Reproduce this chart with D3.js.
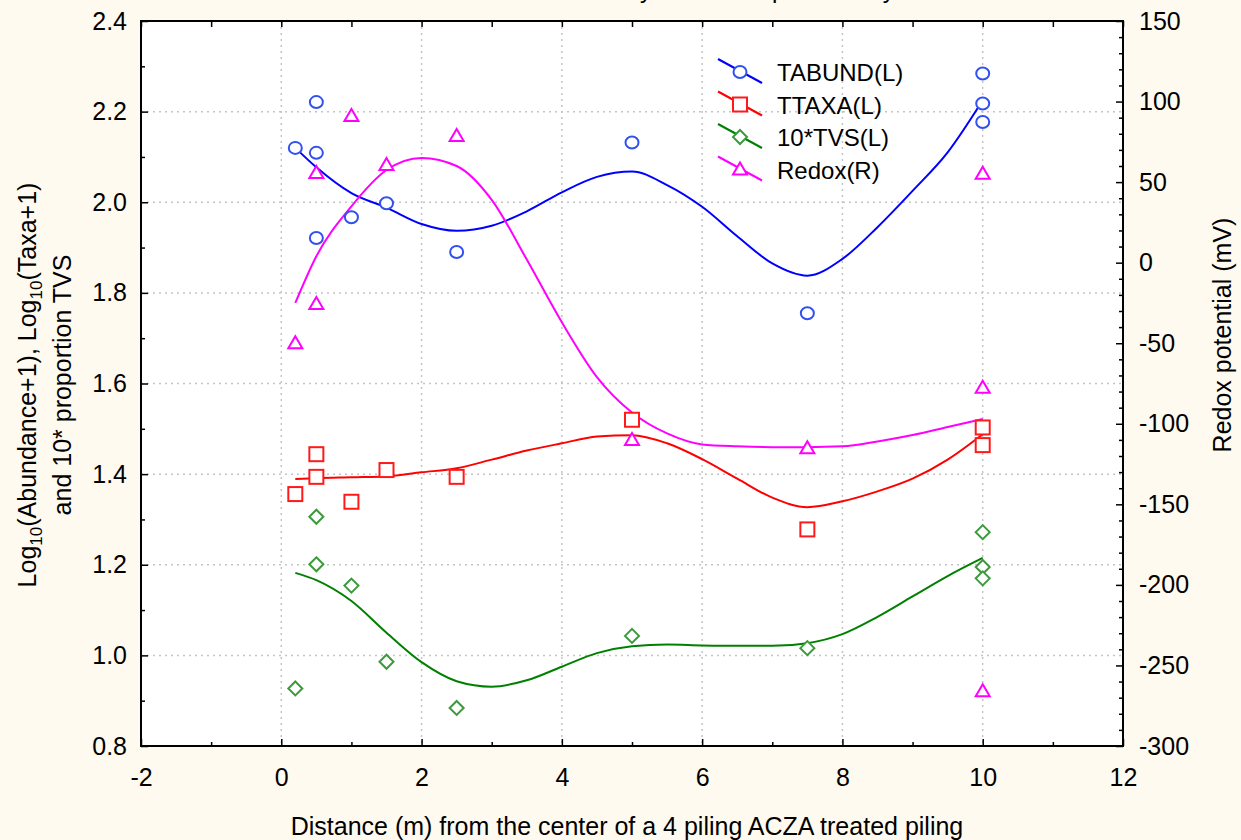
<!DOCTYPE html>
<html>
<head>
<meta charset="utf-8">
<script src="https://cdn.jsdelivr.net/npm/d3@7"></script>
<style>
  body { margin: 0; background: #fffaf0; }
  svg { display: block; font-family: "Liberation Sans", Arial, sans-serif; }
</style>
</head>
<body>
<svg id="chart" width="1241" height="840"></svg>
<script>
// tick values
var xTicks = [-2, 0, 2, 4, 6, 8, 10, 12];
var leftTicks = [0.8, 1.0, 1.2, 1.4, 1.6, 1.8, 2.0, 2.2, 2.4];
var rightTicks = [-300, -250, -200, -150, -100, -50, 0, 50, 100, 150];

// observed points (distance, value)
var tabundX = [0.2, 0.5, 0.5, 0.5, 1, 1.5, 2.5, 5, 7.5, 10, 10, 10];
var tabundY = [2.120, 2.221, 2.109, 1.921, 1.967, 1.998, 1.890, 2.132, 1.755, 2.284, 2.218, 2.177];
var ttaxaX = [0.2, 0.5, 0.5, 1, 1.5, 2.5, 5, 7.5, 10, 10];
var ttaxaY = [1.356, 1.444, 1.394, 1.339, 1.409, 1.394, 1.520, 1.278, 1.503, 1.464];
var tvsX = [0.2, 0.5, 0.5, 1, 1.5, 2.5, 5, 7.5, 10, 10, 10];
var tvsY = [0.927, 1.306, 1.201, 1.154, 0.986, 0.884, 1.043, 1.016, 1.272, 1.195, 1.170];
var redoxX = [0.2, 0.5, 0.5, 1, 1.5, 2.5, 5, 7.5, 10, 10, 10];
var redoxY = [-50, 55.6, -25.7, 91, 60.6, 78.6, -110, -115.2, 55.2, -77.6, -266];

// smoothed fits
var fitX = [0.2, 0.5, 1, 1.5, 2, 2.5, 3, 3.5, 4, 4.5, 5, 5.5, 6, 6.5, 7, 7.5, 8, 8.5, 9, 9.5, 10];
var tabundFit = [2.120, 2.077, 2.020, 1.988, 1.952, 1.937, 1.948, 1.980, 2.022, 2.056, 2.068, 2.038, 1.990, 1.925, 1.865, 1.838, 1.875, 1.945, 2.025, 2.110, 2.225];
var ttaxaFit = [1.389, 1.391, 1.393, 1.395, 1.404, 1.413, 1.432, 1.452, 1.468, 1.483, 1.486, 1.468, 1.433, 1.390, 1.348, 1.327, 1.340, 1.362, 1.390, 1.432, 1.488];
var tvsFit = [1.182, 1.166, 1.120, 1.050, 0.985, 0.943, 0.931, 0.945, 0.975, 1.005, 1.020, 1.024, 1.022, 1.021, 1.021, 1.027, 1.047, 1.085, 1.130, 1.175, 1.215];
var redoxFit = [-25, 4, 35, 57.5, 65, 60, 39, 2, -37, -71, -93, -106, -112.8, -114, -114.5, -114.5, -114, -111, -107, -102, -97];

var series = [
  { name: "TABUND(L)", xs: tabundX, ys: tabundY, fit: tabundFit, axis: "L", line: "#0000ff", mark: "#3050f0", shape: "circle" },
  { name: "TTAXA(L)", xs: ttaxaX, ys: ttaxaY, fit: ttaxaFit, axis: "L", line: "#ff0000", mark: "#ff1a1a", shape: "square" },
  { name: "10*TVS(L)", xs: tvsX, ys: tvsY, fit: tvsFit, axis: "L", line: "#008000", mark: "#3c9a3c", shape: "diamond" },
  { name: "Redox(R)", xs: redoxX, ys: redoxY, fit: redoxFit, axis: "R", line: "#ff00ff", mark: "#ff00ff", shape: "triangle" }
];

var svg = d3.select("#chart");
var pL = 141, pR = 1123, pT = 21, pB = 746;

var x = d3.scaleLinear().domain([-2, 12]).range([pL, pR]);
var yL = d3.scaleLinear().domain([0.8, 2.4]).range([pB, pT]);
var yR = d3.scaleLinear().domain([-300, 150]).range([pB, pT]);

// plain hyphen for negatives, like the original
function fmt(spec) {
  var f = d3.format(spec);
  return function(d) { return f(d).replace("\u2212", "-"); };
}

// title (cut off at the top edge, only descenders show)
svg.append("text")
  .attr("x", 720).attr("y", -2)
  .attr("text-anchor", "middle")
  .style("font-size", "24px")
  .text("Benthic community and redox potential by distance");

svg.append("rect")
  .attr("x", pL).attr("y", pT)
  .attr("width", pR - pL).attr("height", pB - pT)
  .attr("fill", "#ffffff");

// grid
var grid = svg.append("g").attr("stroke", "#c4c4c4").attr("stroke-width", 1.5).attr("stroke-dasharray", "2,4");
grid.selectAll(".gx").data(xTicks.slice(1, -1)).enter().append("line")
  .attr("x1", function(d) { return x(d); }).attr("x2", function(d) { return x(d); })
  .attr("y1", pT).attr("y2", pB);
grid.selectAll(".gy").data(leftTicks.slice(1, -1)).enter().append("line")
  .attr("y1", function(d) { return yL(d); }).attr("y2", function(d) { return yL(d); })
  .attr("x1", pL).attr("x2", pR);

// axes (ticks point inward)
function styleAxis(g) {
  g.select(".domain").remove();
  g.selectAll("line").attr("stroke", "#000").attr("stroke-width", 1.5);
  g.selectAll("text").attr("fill", "#000").style("font-size", "25px");
}
var minorX = d3.range(-1, 12, 2);
var minorL = d3.range(0.9, 2.4, 0.2);
var minorR = d3.range(-290, 150, 10).filter(function(d) { return d % 50 !== 0; });

svg.append("g").attr("transform", "translate(0," + pB + ")")
  .call(d3.axisBottom(x).tickValues(xTicks).tickSize(-7).tickPadding(22).tickFormat(fmt("d")))
  .call(styleAxis);
svg.append("g").attr("transform", "translate(0," + pB + ")")
  .call(d3.axisBottom(x).tickValues(minorX).tickSize(-4).tickFormat(""))
  .call(styleAxis);
svg.append("g").attr("transform", "translate(0," + pT + ")")
  .call(d3.axisTop(x).tickValues(d3.range(-2, 13, 1)).tickSize(-6).tickFormat(""))
  .call(styleAxis);

svg.append("g").attr("transform", "translate(" + pL + ",0)")
  .call(d3.axisLeft(yL).tickValues(leftTicks).tickSize(-7).tickPadding(14).tickFormat(fmt(".1f")))
  .call(styleAxis);
svg.append("g").attr("transform", "translate(" + pL + ",0)")
  .call(d3.axisLeft(yL).tickValues(minorL).tickSize(-4).tickFormat(""))
  .call(styleAxis);

svg.append("g").attr("transform", "translate(" + pR + ",0)")
  .call(d3.axisRight(yR).tickValues(rightTicks).tickSize(-7).tickPadding(16).tickFormat(fmt("d")))
  .call(styleAxis);
svg.append("g").attr("transform", "translate(" + pR + ",0)")
  .call(d3.axisRight(yR).tickValues(minorR).tickSize(-4).tickFormat(""))
  .call(styleAxis);

// frame
svg.append("rect")
  .attr("x", pL).attr("y", pT)
  .attr("width", pR - pL).attr("height", pB - pT)
  .attr("fill", "none").attr("stroke", "#000").attr("stroke-width", 2);

// fitted curves
series.forEach(function(s) {
  var ys = s.axis === "L" ? yL : yR;
  var line = d3.line()
    .x(function(d, i) { return x(fitX[i]); })
    .y(function(d) { return ys(d); })
    .curve(d3.curveMonotoneX);
  svg.append("path").datum(s.fit)
    .attr("d", line)
    .attr("fill", "none")
    .attr("stroke", s.line)
    .attr("stroke-width", 2);
});

// markers
function drawMarker(g, shape, color) {
  if (shape === "circle") {
    g.append("ellipse").attr("rx", 6.5).attr("ry", 6);
  } else if (shape === "square") {
    g.append("rect").attr("x", -7).attr("y", -7).attr("width", 14).attr("height", 14);
  } else if (shape === "diamond") {
    g.append("path").attr("d", "M0,-7L7,0L0,7L-7,0Z");
  } else {
    g.append("path").attr("d", "M0,-7L7,5L-7,5Z");
  }
  g.selectAll("*").attr("fill", "#fff").attr("stroke", color).attr("stroke-width", 2);
}

series.forEach(function(s) {
  var ys = s.axis === "L" ? yL : yR;
  svg.append("g").selectAll("g").data(s.ys).enter().append("g")
    .attr("transform", function(d, i) { return "translate(" + x(s.xs[i]) + "," + ys(d) + ")"; })
    .each(function() { drawMarker(d3.select(this), s.shape, s.mark); });
});

// legend
var legend = svg.append("g");
series.forEach(function(s, i) {
  var cy = 72 + i * 32.5;
  var row = legend.append("g");
  row.append("line")
    .attr("x1", 718).attr("y1", cy - 13).attr("x2", 762).attr("y2", cy + 11)
    .attr("stroke", s.line).attr("stroke-width", 2);
  drawMarker(row.append("g").attr("transform", "translate(740," + cy + ")"), s.shape, s.mark);
  row.append("text")
    .attr("x", 777).attr("y", cy + 9)
    .style("font-size", "24px")
    .text(s.name);
});

// axis titles
svg.append("text")
  .attr("x", 627).attr("y", 835)
  .attr("text-anchor", "middle")
  .style("font-size", "25px")
  .text("Distance (m) from the center of a 4 piling ACZA treated piling");

var yt = svg.append("text")
  .attr("transform", "translate(36,385) rotate(-90)")
  .attr("text-anchor", "middle")
  .style("font-size", "25px");
yt.append("tspan").text("Log");
yt.append("tspan").attr("dy", 6).style("font-size", "17px").text("10");
yt.append("tspan").attr("dy", -6).text("(Abundance+1), Log");
yt.append("tspan").attr("dy", 6).style("font-size", "17px").text("10");
yt.append("tspan").attr("dy", -6).text("(Taxa+1)");

svg.append("text")
  .attr("transform", "translate(71,385) rotate(-90)")
  .attr("text-anchor", "middle")
  .style("font-size", "25px")
  .text("and 10* proportion TVS");

svg.append("text")
  .attr("transform", "translate(1231,335) rotate(-90)")
  .attr("text-anchor", "middle")
  .style("font-size", "25px")
  .text("Redox potential (mV)");
</script>
</body>
</html>
